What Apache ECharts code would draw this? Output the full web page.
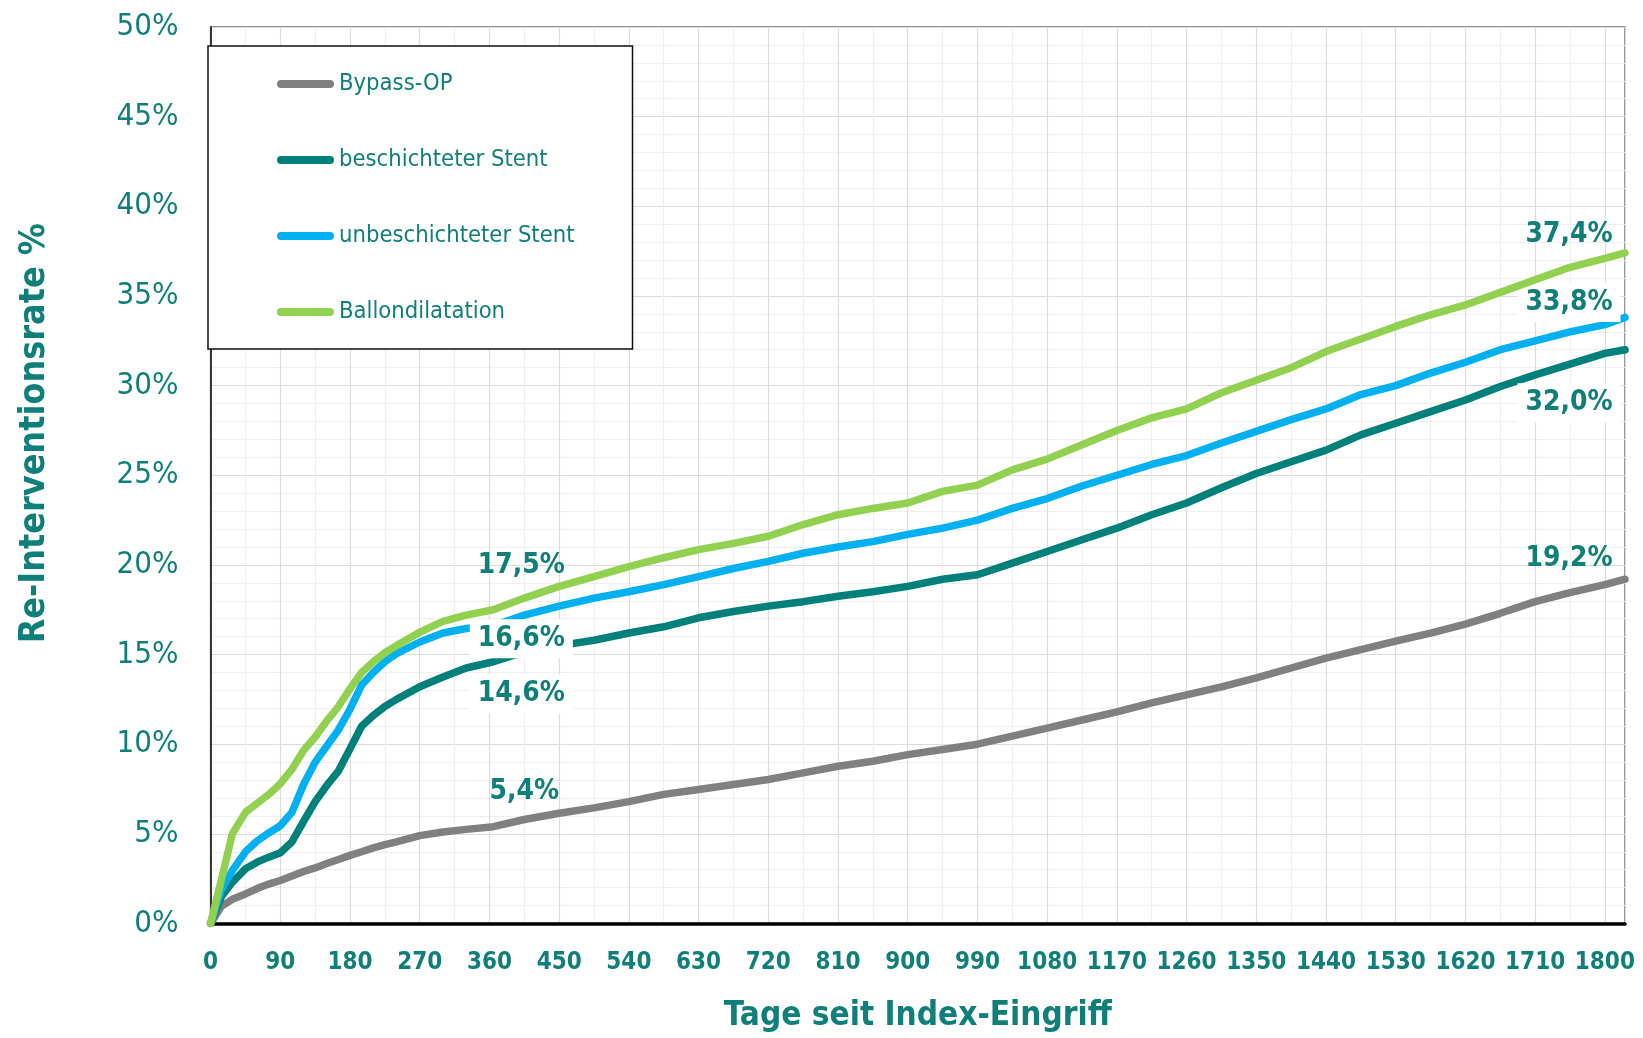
<!DOCTYPE html>
<html lang="de">
<head>
<meta charset="utf-8">
<title>Re-Interventionsrate</title>
<script src="https://cdn.jsdelivr.net/npm/echarts@6/dist/echarts.min.js"></script>
<style>
  html, body { margin: 0; padding: 0; background: #ffffff; }
  #chart { width: 1643px; height: 1038px; }
</style>
</head>
<body>
<div id="chart"></div>
<script>
// Tage seit Index-Eingriff (Stützstellen der Kurven)
const days = [0, 14, 28, 45, 60, 75, 90, 105, 120, 135,
  150, 165, 180, 195, 210, 225, 240, 270, 300, 330,
  365, 405, 450, 495, 540, 585, 630, 675, 720, 765,
  810, 855, 900, 945, 990, 1035, 1080, 1125, 1170, 1215,
  1260, 1305, 1350, 1395, 1440, 1485, 1530, 1575, 1620, 1665,
  1710, 1755, 1800, 1826];

// Kumulative Re-Interventionsrate in %
const bypassOp = [0, 0.96, 1.35, 1.65, 1.95, 2.2, 2.4, 2.65, 2.9, 3.1,
  3.35, 3.57, 3.8, 4.0, 4.22, 4.4, 4.55, 4.9, 5.1, 5.25,
  5.4, 5.8, 6.15, 6.45, 6.8, 7.2, 7.47, 7.75, 8.03, 8.4,
  8.77, 9.05, 9.42, 9.7, 10.0, 10.45, 10.9, 11.35, 11.8, 12.3,
  12.75, 13.2, 13.7, 14.25, 14.8, 15.27, 15.75, 16.2, 16.7, 17.3,
  17.95, 18.45, 18.9, 19.2];

const beschichteterStent = [0, 1.5, 2.3, 3.05, 3.42, 3.7, 3.95, 4.55, 5.7, 6.8,
  7.7, 8.5, 9.75, 11.0, 11.6, 12.1, 12.5, 13.2, 13.75, 14.25,
  14.6, 15.15, 15.5, 15.8, 16.2, 16.55, 17.05, 17.4, 17.7, 17.95,
  18.25, 18.5, 18.8, 19.2, 19.45, 20.1, 20.75, 21.4, 22.05, 22.8,
  23.45, 24.3, 25.1, 25.75, 26.4, 27.25, 27.9, 28.55, 29.2, 29.95,
  30.6, 31.2, 31.8, 32.0];

const unbeschichteterStent = [0, 1.9, 2.95, 4.0, 4.6, 5.05, 5.45, 6.2, 7.75, 9.0,
  9.9, 10.8, 11.95, 13.3, 14.0, 14.6, 15.05, 15.7, 16.2, 16.45,
  16.6, 17.2, 17.7, 18.15, 18.5, 18.9, 19.35, 19.8, 20.2, 20.65,
  21.0, 21.3, 21.7, 22.05, 22.5, 23.15, 23.7, 24.4, 25.0, 25.6,
  26.1, 26.8, 27.45, 28.1, 28.7, 29.5, 30.0, 30.7, 31.3, 32.0,
  32.5, 33.0, 33.4, 33.8];

const ballondilatation = [0, 2.45, 5.0, 6.2, 6.7, 7.2, 7.8, 8.6, 9.65, 10.4,
  11.3, 12.1, 13.1, 14.0, 14.6, 15.1, 15.5, 16.25, 16.85, 17.2,
  17.5, 18.15, 18.8, 19.35, 19.9, 20.4, 20.85, 21.2, 21.6, 22.25,
  22.8, 23.15, 23.45, 24.1, 24.45, 25.3, 25.9, 26.7, 27.5, 28.2,
  28.7, 29.6, 30.3, 31.0, 31.9, 32.6, 33.3, 33.95, 34.5, 35.2,
  35.9, 36.6, 37.1, 37.4];

const seriesNames = ['Bypass-OP', 'beschichteter Stent', 'unbeschichteter Stent', 'Ballondilatation'];
const seriesValues = [bypassOp, beschichteterStent, unbeschichteterStent, ballondilatation];

// Beschriftete Zeitpunkte: nach einem Jahr und am Ende der Beobachtung
const labelDays = [365, 1826];

const TEAL = '#0f7f79';
// schmaler Schnitt für Achsen, Legende und Werte
const FONT = "'Noto Sans Condensed', 'DejaVu Sans Condensed', 'Liberation Sans Narrow', 'Liberation Sans', Arial, sans-serif";
const colors = ['#808080', '#00807a', '#00b0f0', '#92d050'];

// Schriftgröße so wählen, dass ein Mustertext eine bestimmte Breite erhält
const measureCtx = document.createElement('canvas').getContext('2d');
function sizeForWidth(sample, width, weight) {
  measureCtx.font = (weight || 'normal') + ' 100px ' + FONT;
  return Math.round(1000 * width / measureCtx.measureText(sample).width) / 10;
}
const sizeYTick = sizeForWidth('50%', 62, 'normal');
const sizeXTick = sizeForWidth('1800', 60, 'bold');
const sizeXName = sizeForWidth('Tage seit Index-Eingriff', 388, 'bold');
const sizeYName = sizeForWidth('Re-Interventionsrate %', 421, 'bold');
const sizeLegend = sizeForWidth('unbeschichteter Stent', 236, 'normal');
const sizeValue = sizeForWidth('16,6%', 87, 'bold');

// Versatz der Wertbeschriftungen je Kurve [1 Jahr, Ende]
const labelOffsets = [
  [[31, -35], [-56, -20]],
  [[28, 32], [-56, 53]],
  [[28, 13], [-56, -15]],
  [[28, -44], [-56, -18]]
];
// Beschriftungen mit weißem Hintergrund
const labelBoxed = [
  [false, false],
  [true, true],
  [true, true],
  [false, false]
];

function fmtPct(v) {
  return v.toFixed(1).replace('.', ',') + '%';
}

function buildData(si) {
  const vals = seriesValues[si];
  return days.map(function (d, i) {
    const li = labelDays.indexOf(d);
    if (li < 0) return [d, vals[i]];
    const boxed = labelBoxed[si][li];
    return {
      value: [d, vals[i]],
      symbol: 'circle',
      symbolSize: 1,
      itemStyle: { color: colors[si] },
      label: {
        show: true,
        position: 'inside',
        offset: labelOffsets[si][li],
        formatter: function (p) { return fmtPct(p.value[1]); },
        color: TEAL,
        fontFamily: FONT,
        fontWeight: 'bold',
        fontSize: sizeValue,
        lineHeight: Math.round(sizeValue * 1.05),
        backgroundColor: boxed ? '#ffffff' : 'transparent',
        padding: boxed ? [5, 8, 5, 8] : 0
      }
    };
  });
}

const chart = echarts.init(document.getElementById('chart'), null, { renderer: 'canvas' });

chart.setOption({
  animation: false,
  backgroundColor: '#ffffff',
  grid: {
    left: 210.6,
    right: 18,
    top: 27,
    bottom: 114,
    show: true,
    backgroundColor: '#ffffff',
    borderColor: '#66727a',
    borderWidth: 1.5
  },
  legend: {
    data: seriesNames,
    orient: 'vertical',
    left: 208,
    top: 46,
    padding: [22, 58, 21, 69],
    itemGap: 44,
    itemWidth: 57,
    itemHeight: 8,
    icon: 'path://M4,0 H53 A4,4 0 0 1 53,8 H4 A4,4 0 0 1 4,0 Z',
    selectedMode: false,
    backgroundColor: '#ffffff',
    borderColor: '#111111',
    borderWidth: 1.5,
    textStyle: {
      color: TEAL,
      fontFamily: FONT,
      fontSize: sizeLegend,
      lineHeight: 32
    }
  },
  xAxis: {
    type: 'value',
    min: 0,
    max: 1826,
    interval: 90,
    name: 'Tage seit Index-Eingriff',
    nameLocation: 'middle',
    nameGap: 93,
    nameTextStyle: {
      color: TEAL,
      fontFamily: FONT,
      fontWeight: 'bold',
      fontSize: sizeXName,
      verticalAlign: 'middle'
    },
    axisLine: { show: true, onZero: false, lineStyle: { color: '#000000', width: 3.5 } },
    axisTick: { show: false },
    axisLabel: {
      showMaxLabel: false,
      margin: 39,
      verticalAlign: 'middle',
      color: TEAL,
      fontFamily: FONT,
      fontWeight: 'bold',
      fontSize: sizeXTick,
      formatter: function (v) { return String(v); }
    },
    splitLine: { show: true, lineStyle: { color: '#dcdcdc', width: 1.2 } },
    minorTick: { show: false, splitNumber: 2 },
    minorSplitLine: { show: true, lineStyle: { color: '#efefef', width: 1.2 } }
  },
  yAxis: {
    type: 'value',
    min: 0,
    max: 50,
    interval: 5,
    name: 'Re-Interventionsrate %',
    nameLocation: 'middle',
    nameRotate: 90,
    nameGap: 176,
    nameTextStyle: {
      color: TEAL,
      fontFamily: FONT,
      fontWeight: 'bold',
      fontSize: sizeYName,
      verticalAlign: 'middle',
      padding: [0, 0, 0, 84]
    },
    axisLine: { show: true, lineStyle: { color: '#000000', width: 1.5 } },
    axisTick: { show: false },
    axisLabel: {
      margin: 32,
      color: TEAL,
      fontFamily: FONT,
      fontSize: sizeYTick,
      formatter: '{value}%'
    },
    splitLine: { show: true, lineStyle: { color: '#dcdcdc', width: 1.2 } },
    minorTick: { show: false, splitNumber: 5 },
    minorSplitLine: { show: true, lineStyle: { color: '#efefef', width: 1.2 } }
  },
  series: seriesNames.map(function (name, si) {
    return {
      name: name,
      type: 'line',
      data: buildData(si),
      symbol: 'none',
      showSymbol: true,
      color: colors[si],
      lineStyle: { color: colors[si], width: 7.5, cap: 'round', join: 'round' },
      emphasis: { disabled: true },
      z: 2 + si
    };
  })
});
</script>
</body>
</html>
